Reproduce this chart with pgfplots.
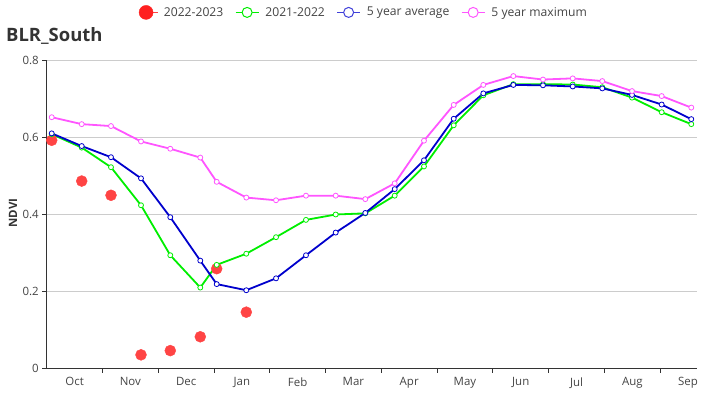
\documentclass[border=0pt]{standalone}
\usepackage{fontspec}
\setmainfont{Open Sans}
\usepackage{pgfplots}
\pgfplotsset{compat=1.18}
\definecolor{cred}{RGB}{255,68,68}
\definecolor{clegred}{RGB}{255,32,32}
\definecolor{cgreen}{RGB}{0,238,0}
\definecolor{cblue}{RGB}{0,0,204}
\definecolor{cpink}{RGB}{255,85,255}
\definecolor{ctext}{RGB}{68,68,68}
\definecolor{cgrid}{RGB}{204,204,204}
\definecolor{caxis}{RGB}{51,51,51}
\begin{document}
\begin{tikzpicture}
\useasboundingbox (0,0) rectangle (726bp,400bp);
\node[anchor=base west, inner sep=0pt, font=\bfseries\fontsize{18.5}{20}\selectfont, text=caxis] at (6bp,358.3bp) {BLR\_South};
\begin{axis}[
  at={(46.7bp,31.7bp)}, anchor=south west,
  scale only axis, width=650bp, height=307.6bp,
  xmin=0, xmax=11.655, ymin=0, ymax=0.8,
  clip=false,
  axis x line*=bottom, axis y line*=left,
  axis line style={draw=caxis, line width=0.9pt, -},
  xtick={1,2,3,4,5,6,7,8,9,10,11}, xticklabels={},
  extra x ticks={0.5,1.5,2.5,3.5,4.5,5.5,6.5,7.5,8.5,9.5,10.5,11.5},
  extra x tick labels={Oct,Nov,Dec,Jan,Feb,Mar,Apr,May,Jun,Jul,Aug,Sep},
  extra x tick style={major tick length=0pt, grid=none},
  ytick={0,0.2,0.4,0.6,0.8},
  yticklabels={0,0.2,0.4,0.6,0.8},
  ymajorgrids, grid style={cgrid, line width=0.7pt},
  tick style={draw=caxis, line width=0.8pt}, major tick length=4.5bp,
  tick align=outside,
  tick label style={font=\fontsize{11.5}{13}\selectfont, text=ctext},
  xticklabel style={yshift=-5.5bp},
  ylabel={NDVI},
  every axis y label/.style={at={(axis description cs:-0.0518,0.505)}, rotate=90, anchor=center, font=\bfseries\fontsize{11.5}{13}\selectfont, text=caxis},
  legend style={at={(axis description cs:0.1415,1.157)}, anchor=west, draw=none, fill=none, inner sep=0pt,
    legend columns=4, font=\fontsize{12.2}{14}\selectfont, text=ctext,
    nodes={inner xsep=0pt, inner ysep=1pt},
    /tikz/every odd column/.append style={column sep=6bp},
    /tikz/every even column/.append style={column sep=11.5bp}},
]
\addplot[only marks, mark=*, mark size=5.5bp, color=cred, mark options={draw=none, fill=cred},
  legend image code/.code={\path (0bp,0bp) -- (18.6bp,0bp); \fill[clegred] (7bp,0bp) circle (7bp);}]
coordinates {
(0.090,0.593) (0.628,0.487) (1.153,0.450) (1.691,0.035) (2.216,0.046) (2.754,0.082) (3.048,0.259) (3.579,0.146)
};
\addlegendentry{2022-2023}
\addplot[color=cgreen, line width=1.8bp, mark=*, mark size=2.5bp, mark options={fill=white, draw=cgreen, line width=0.8pt},
  legend image code/.code={\draw[cgreen, line width=1.5pt] (0bp,0bp) -- (23bp,0bp); \draw[cgreen, fill=white, line width=1pt] (11.5bp,0bp) circle (5bp);}]
coordinates {
(0.090,0.609) (0.628,0.574) (1.153,0.523) (1.691,0.424) (2.216,0.294) (2.754,0.210) (3.048,0.269) (3.579,0.298)
(4.112,0.341) (4.649,0.386) (5.182,0.400) (5.713,0.403) (6.240,0.449) (6.765,0.525) (7.298,0.632) (7.829,0.710)
(8.367,0.739) (8.899,0.739) (9.432,0.738) (9.962,0.731) (10.495,0.704) (11.027,0.666) (11.558,0.635)
};
\addlegendentry{2021-2022}
\addplot[color=cblue, line width=1.8bp, mark=*, mark size=2.5bp, mark options={fill=white, draw=cblue, line width=0.8pt},
  legend image code/.code={\draw[cblue!75, line width=1.5pt] (0bp,0bp) -- (23bp,0bp); \draw[cblue!75, fill=white, line width=1pt] (11.5bp,0bp) circle (5bp);}]
coordinates {
(0.090,0.611) (0.628,0.578) (1.153,0.549) (1.691,0.494) (2.216,0.393) (2.754,0.280) (3.048,0.219) (3.579,0.203)
(4.112,0.234) (4.649,0.294) (5.182,0.353) (5.713,0.404) (6.240,0.466) (6.765,0.541) (7.298,0.649) (7.829,0.715)
(8.367,0.737) (8.899,0.736) (9.432,0.733) (9.962,0.728) (10.495,0.711) (11.027,0.686) (11.558,0.648)
};
\addlegendentry{5 year average}
\addplot[color=cpink, line width=1.8bp, mark=*, mark size=2.5bp, mark options={fill=white, draw=cpink, line width=0.8pt},
  legend image code/.code={\draw[cpink, line width=1.5pt] (0bp,0bp) -- (23bp,0bp); \draw[cpink, fill=white, line width=1pt] (11.5bp,0bp) circle (5bp);}]
coordinates {
(0.090,0.653) (0.628,0.635) (1.153,0.630) (1.691,0.590) (2.216,0.571) (2.754,0.548) (3.048,0.485) (3.579,0.444)
(4.112,0.437) (4.649,0.449) (5.182,0.449) (5.713,0.440) (6.240,0.481) (6.765,0.592) (7.298,0.685) (7.829,0.737)
(8.367,0.760) (8.899,0.751) (9.432,0.754) (9.962,0.747) (10.495,0.721) (11.027,0.708) (11.558,0.678)
};
\addlegendentry{5 year maximum}
\end{axis}
\end{tikzpicture}
\end{document}
